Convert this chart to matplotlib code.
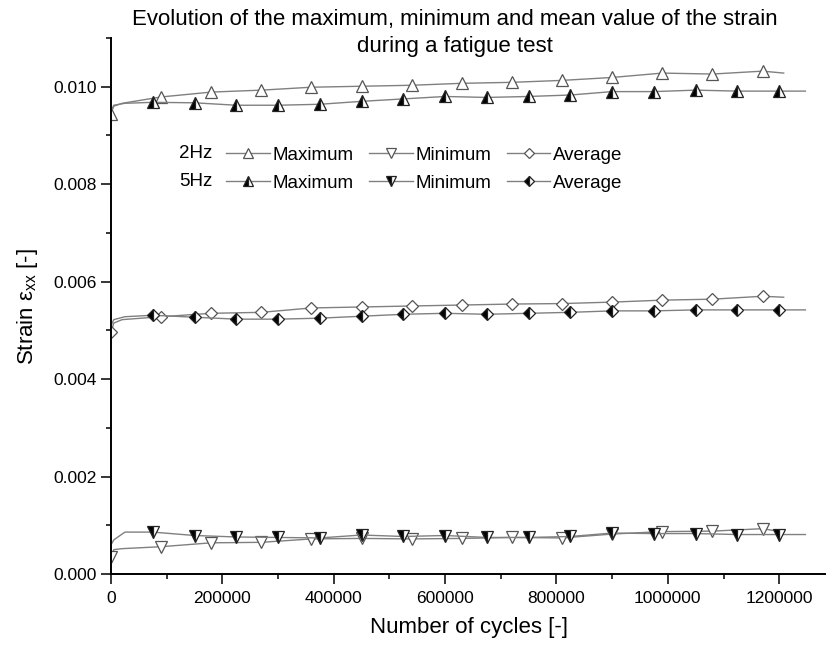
import matplotlib
matplotlib.use('Agg')
import matplotlib.pyplot as plt
from matplotlib.ticker import MultipleLocator, FormatStrFormatter

plt.rcParams['font.family'] = ['Liberation Sans', 'DejaVu Sans']
plt.rcParams['mathtext.fontset'] = 'custom'
plt.rcParams['mathtext.rm'] = 'Liberation Sans'
plt.rcParams['mathtext.it'] = 'Liberation Sans:italic'

# 2 Hz test
cycles_2hz = [0, 5000, 20000, 90000, 180000, 270000, 360000, 450000, 540000,
              630000, 720000, 810000, 900000, 990000, 1080000, 1170000, 1208000]
max_2hz = [0.00945, 0.00960, 0.00966, 0.00979, 0.00989, 0.00993, 0.00999, 0.01001, 0.01003,
           0.01007, 0.01009, 0.01013, 0.01019, 0.01028, 0.01026, 0.01032, 0.01028]
min_2hz = [0.00035, 0.00050, 0.00052, 0.00056, 0.00064, 0.00065, 0.00072, 0.00073, 0.00072,
           0.00073, 0.00075, 0.00074, 0.00082, 0.00087, 0.00088, 0.00093, 0.00086]
avg_2hz = [0.00496, 0.00515, 0.00522, 0.00528, 0.00535, 0.00537, 0.00546, 0.00548, 0.00550,
           0.00552, 0.00554, 0.00555, 0.00558, 0.00562, 0.00564, 0.00570, 0.00568]

# 5 Hz test
cycles_5hz = [0, 5000, 25000, 75000, 150000, 225000, 300000, 375000, 450000, 525000,
              600000, 675000, 750000, 825000, 900000, 975000, 1050000, 1125000, 1200000, 1247000]
max_5hz = [0.00950, 0.00962, 0.00966, 0.00968, 0.00967, 0.00962, 0.00962, 0.00964, 0.00970, 0.00975,
           0.00980, 0.00978, 0.00980, 0.00983, 0.00990, 0.00990, 0.00993, 0.00991, 0.00991, 0.00991]
min_5hz = [0.00060, 0.00070, 0.00086, 0.00086, 0.00079, 0.00076, 0.00075, 0.00074, 0.00080, 0.00077,
           0.00079, 0.00075, 0.00075, 0.00077, 0.00084, 0.00083, 0.00083, 0.00081, 0.00081, 0.00081]
avg_5hz = [0.00510, 0.00522, 0.00528, 0.00531, 0.00527, 0.00523, 0.00523, 0.00525, 0.00529, 0.00533,
           0.00535, 0.00533, 0.00535, 0.00537, 0.00540, 0.00540, 0.00542, 0.00542, 0.00542, 0.00542]

marks_2hz = [i for i, c in enumerate(cycles_2hz) if c % 90000 == 0]
marks_5hz = [i for i, c in enumerate(cycles_5hz) if c > 0 and c % 75000 == 0]

fig = plt.figure(figsize=(8.26, 6.49), dpi=100)
ax = fig.add_axes([111 / 826, 75 / 649, 715 / 826, 536 / 649])

line_col = '#808080'
open_kw = dict(color=line_col, lw=1.0, mfc='white', mec='#555555', mew=0.9)
half_kw = dict(color=line_col, lw=1.0, fillstyle='left', mfc='black',
               mfcalt='white', mec='#222222', mew=0.9)

h_max2, = ax.plot(cycles_2hz, max_2hz, marker='^', ms=8, markevery=marks_2hz, **open_kw)
h_min2, = ax.plot(cycles_2hz, min_2hz, marker='v', ms=8, markevery=marks_2hz, **open_kw)
h_avg2, = ax.plot(cycles_2hz, avg_2hz, marker='D', ms=6.5, markevery=marks_2hz, **open_kw)
h_max5, = ax.plot(cycles_5hz, max_5hz, marker='^', ms=8, markevery=marks_5hz, **half_kw)
h_min5, = ax.plot(cycles_5hz, min_5hz, marker='v', ms=8, markevery=marks_5hz, **half_kw)
h_avg5, = ax.plot(cycles_5hz, avg_5hz, marker='D', ms=6.5, markevery=marks_5hz, **half_kw)

ax.set_xlim(0, 1284000)
ax.set_ylim(0, 0.011)
ax.xaxis.set_major_locator(MultipleLocator(200000))
ax.xaxis.set_minor_locator(MultipleLocator(100000))
ax.xaxis.set_major_formatter(FormatStrFormatter('%d'))
ax.yaxis.set_major_locator(MultipleLocator(0.002))
ax.yaxis.set_minor_locator(MultipleLocator(0.001))
ax.yaxis.set_major_formatter(FormatStrFormatter('%.3f'))

for side in ['top', 'right']:
    ax.spines[side].set_visible(False)
for side in ['left', 'bottom']:
    ax.spines[side].set_linewidth(1.4)
ax.tick_params(which='major', direction='out', length=7, width=1.1, labelsize=12.5)
ax.tick_params(axis='x', which='major', pad=5)
ax.tick_params(axis='y', which='major', pad=3)
ax.tick_params(which='minor', direction='out', length=3.5, width=1.1)

ax.set_xlabel('Number of cycles [-]', fontsize=16, labelpad=8)
ax.set_ylabel(r'Strain $\mathregular{\varepsilon_{xx}}$ [-]', fontsize=16, labelpad=10)

fig.text(455 / 826, 1 - 9 / 649,
         'Evolution of the maximum, minimum and mean value of the strain\nduring a fatigue test',
         ha='center', va='top', fontsize=16, linespacing=1.4)

leg = ax.legend([h_max2, h_max5, h_min2, h_min5, h_avg2, h_avg5],
                ['Maximum', 'Maximum', 'Minimum', 'Minimum', 'Average', 'Average'],
                ncol=3, loc='upper left', bbox_to_anchor=(217 / 826, 1 - 137 / 649),
                bbox_transform=fig.transFigure, frameon=False, fontsize=13.5,
                handlelength=2.3, handletextpad=0.15, columnspacing=0.85,
                labelspacing=0.6, borderpad=0, numpoints=1, markerscale=0.85)
fig.text(179 / 826, 1 - 154 / 649, '2Hz', ha='left', va='center', fontsize=13.5)
fig.text(179 / 826, 1 - 182 / 649, '5Hz', ha='left', va='center', fontsize=13.5)

fig.savefig('out.png', dpi=100)
